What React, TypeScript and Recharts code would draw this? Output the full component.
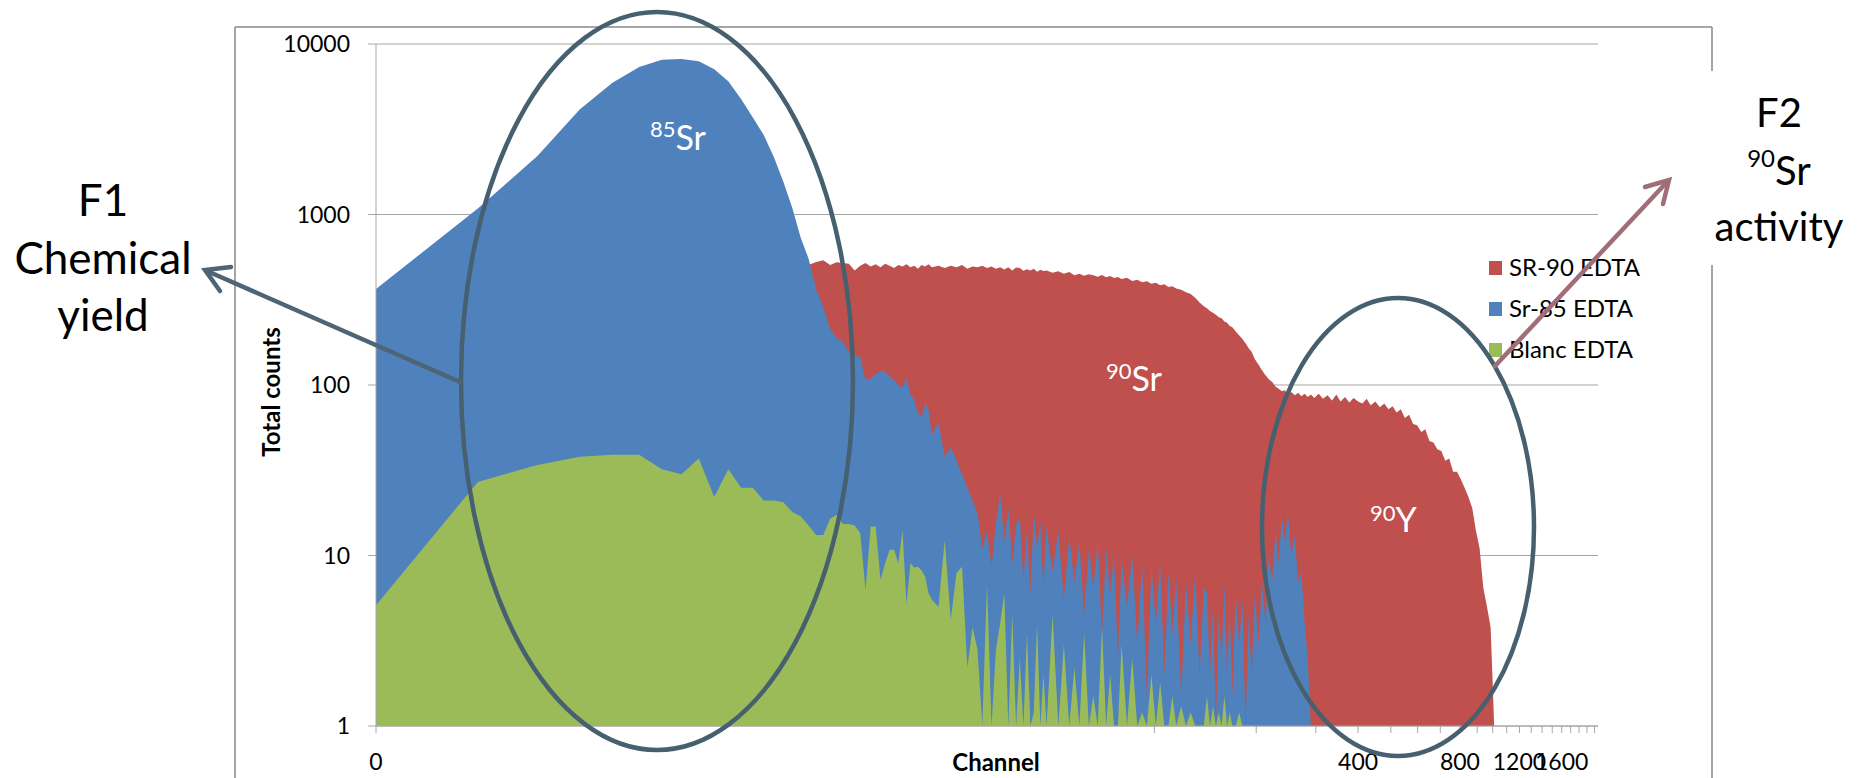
import React from 'react';
import { AreaChart, Area, XAxis, YAxis, CartesianGrid } from 'recharts';

const FONT = 'Lato, "Open Sans", sans-serif';

// channel grid (half-channel steps at the low end, sparser in the noisy tail)
const channels = [
  0.5, 1, 1.5, 2, 2.5, 3, 3.5, 4, 4.5, 5, 5.5, 6, 6.5, 7, 7.5, 8, 8.5, 9, 9.5, 10, 10.5, 11, 11.5, 12, 12.5, 13,
  13.5, 14, 14.5, 15, 15.5, 16, 16.5, 17, 17.5, 18, 18.5, 19, 19.5, 20, 20.5, 21, 21.5, 22,
  23, 24, 25, 26, 27, 28, 29, 30, 31, 32, 33, 34, 35,
  36, 37, 38, 39, 40, 41, 42, 43, 44, 45, 46, 47, 48, 50, 52, 54, 56, 58, 60,
  62, 64, 66, 68, 70, 72, 74, 76, 78, 80, 83, 86, 89, 92, 95, 98, 101, 104, 107, 110, 113, 116,
  120, 124, 128, 132, 136, 140,
  143, 146, 149, 152, 155, 158, 161, 164, 167, 170, 174, 178, 182, 186, 190, 194, 198,
  203, 208, 213, 218, 223, 228, 233, 238, 243, 248, 254, 260, 266, 272, 278, 284, 290,
  297, 306, 315, 325, 335, 345, 355, 366, 377, 388, 400, 412, 424, 436, 450, 464, 478, 492, 506, 520,
  535, 550, 566, 582, 598, 615, 632, 650, 668, 686, 705, 724, 744, 764, 784, 805, 826, 848, 870, 892,
  915, 938, 962, 986, 1000, 1010, 1024,
];

// SR-90 EDTA
const sr90 = [
  250, 420, 480, 500, 510, 505, 500, 505, 500, 505, 500, 510, 505, 500, 510, 505, 500, 510, 505, 527, 540, 505, 525, 520, 515, 470,
  500, 520, 495, 510, 490, 515, 500, 485, 505, 495, 510, 490, 500, 480, 505, 495, 510, 490,
  500, 485, 500, 490, 505, 480, 495, 490, 500, 485, 495, 480, 490,
  475, 490, 470, 488, 485, 468, 478, 470, 480, 462, 474, 466, 470, 455, 465, 450, 460, 440, 450,
  438, 446, 440, 432, 442, 428, 436, 424, 430, 418, 426, 408, 414, 400, 406, 392, 398, 385, 390, 376, 380, 368,
  362, 350, 342, 325, 305, 290,
  282, 272, 265, 258, 250, 246, 236, 232, 222, 218, 206, 196, 186, 176, 164, 156, 142,
  132, 122, 114, 108, 104, 98, 95, 92, 93, 88, 91, 87, 90, 86, 89, 85, 88,
  84, 89, 83, 87, 81, 88, 80, 85, 79, 84, 80, 78, 83, 76, 80, 74, 78, 72, 75, 69,
  72, 64, 67, 59, 58, 53, 55, 47, 46, 42, 41, 36, 37, 31, 31, 28, 25, 22, 19, 14,
  11, 6.5, 5, 3.8, 1.8, 1, 1,
];

// Sr-85 EDTA
const sr85 = [
  366, 1083, 2207, 4130, 5930, 7320, 8080, 8170, 7920, 7110, 6050, 4750, 3700, 2930, 2175, 1555, 1097, 732, 551, 366, 288, 213, 189, 178, 157, 148,
  147, 107, 109, 116, 121, 121, 112, 107, 100, 97, 109, 89, 82, 68, 65, 78, 71, 51,
  60, 38, 43, 36, 30, 25, 21, 17.7, 11, 14, 8.6, 15.4, 23,
  12, 19, 9, 15, 17, 7, 14, 6, 18, 11, 16, 6.5, 15, 8, 14, 5.5, 13, 7, 12,
  4.5, 11, 6.5, 12, 3.5, 11, 6, 10, 2.5, 9.5, 5, 10, 3, 9, 1.5, 8.5, 4, 9, 2, 8, 3.5, 7.5,
  1.5, 7, 3, 8, 2, 6.5,
  6, 2, 5, 1, 4.5, 2.5, 7, 2, 5, 1.5, 6, 3, 5.5, 1, 4.5, 2, 6,
  3, 7, 4, 10, 7, 14, 9, 17, 12, 18, 10, 13, 7, 8, 4, 2.5, 1,
  1, 1, 1, 1, 1, 1, 1, 1, 1, 1, 1, 1, 1, 1, 1, 1, 1, 1, 1, 1,
  1, 1, 1, 1, 1, 1, 1, 1, 1, 1, 1, 1, 1, 1, 1, 1, 1, 1, 1, 1,
  1, 1, 1, 1, 1, 1, 1,
];

// Blanc EDTA
const blanc = [
  5.1, 27, 34, 38, 39, 39, 32, 30, 37, 22, 32, 25, 25, 21, 21, 20.5, 18, 17, 15, 13.2, 13.2, 16.4, 17.3, 15.3, 15.3, 15,
  13.5, 6.3, 14.8, 14.8, 7.2, 9, 10.8, 10.8, 9, 14, 5.2, 9, 8.5, 8.6, 8.2, 7.5, 6, 5.5,
  5, 12.3, 4.2, 7.9, 8.6, 2.2, 3.8, 2.8, 1, 6.9, 1, 2.8, 4,
  6, 1, 4.5, 1, 2.5, 1, 3.5, 1, 1.2, 4, 1, 2, 1, 4.5, 1, 3, 1, 2.2, 1,
  3.5, 1, 1.5, 1, 3.8, 1, 2, 1, 1, 3, 1, 2.5, 1, 1.2, 1, 2, 1, 1.8, 1, 1, 1.5, 1,
  1.3, 1, 1.2, 1, 1, 1,
  1.5, 1, 1.3, 1, 1.2, 1, 1.5, 1, 1.2, 1, 1, 1.2, 1, 1, 1, 1, 1,
  1, 1, 1, 1, 1, 1, 1, 1, 1, 1, 1, 1, 1, 1, 1, 1, 1,
  1, 1, 1, 1, 1, 1, 1, 1, 1, 1, 1, 1, 1, 1, 1, 1, 1, 1, 1, 1,
  1, 1, 1, 1, 1, 1, 1, 1, 1, 1, 1, 1, 1, 1, 1, 1, 1, 1, 1, 1,
  1, 1, 1, 1, 1, 1, 1,
];

const yTicks = [1, 10, 100, 1000, 10000];
const xTicks = [0.5, 100, 200, 300, 400, 500, 600, 700, 800, 900, 1000, 1100, 1200, 1300, 1400, 1500, 1600, 1700, 1800, 1900, 2000];
const xLabelled = [400, 800, 1200, 1600];

const series = [
  { key: 'sr90', name: 'SR-90 EDTA', color: '#C0504D' },
  { key: 'sr85', name: 'Sr-85 EDTA', color: '#4F81BD' },
  { key: 'blanc', name: 'Blanc EDTA', color: '#9BBB59' },
];

const rows = channels.map((ch, i) => ({ ch, sr90: sr90[i], sr85: sr85[i], blanc: blanc[i] }));

const fmtX = (v: number) => (v === 0.5 ? '0' : xLabelled.includes(v) ? String(v) : '');

const Overlay = () => {
  const slate = '#46606f';
  const mauve = '#9f6e79';
  return (
    <svg width={1866} height={778} style={{ position: 'absolute', left: 0, top: 0, pointerEvents: 'none' }}>
      {/* chart area border, broken on the right by the F2 note */}
      <g stroke="#898989" strokeWidth={1.5}>
        <line x1={235} y1={27} x2={235} y2={778} />
        <line x1={235} y1={27} x2={1712} y2={27} />
        <line x1={1712} y1={27} x2={1712} y2={71} />
        <line x1={1712} y1={265} x2={1712} y2={778} />
      </g>

      {/* axis titles */}
      <text x={280} y={392} transform="rotate(-90 280 392)" textAnchor="middle" fontFamily={FONT} fontWeight="bold" fontSize={24} fill="#000">
        Total counts
      </text>
      <text x={996} y={771} textAnchor="middle" fontFamily={FONT} fontWeight="bold" fontSize={24} fill="#000">
        Channel
      </text>

      {/* peak labels */}
      <text x={650} y={150} fontFamily={FONT} fill="#fff" fontSize={34}>
        <tspan fontSize={22} dy={-13}>85</tspan>
        <tspan dy={13}>Sr</tspan>
      </text>
      <text x={1106} y={391} fontFamily={FONT} fill="#fff" fontSize={34}>
        <tspan fontSize={22} dy={-12}>90</tspan>
        <tspan dy={12}>Sr</tspan>
      </text>
      <text x={1370} y={532} fontFamily={FONT} fill="#fff" fontSize={34}>
        <tspan fontSize={22} dy={-11}>90</tspan>
        <tspan dy={11}>Y</tspan>
      </text>

      {/* legend */}
      {series.map((s, i) => (
        <g key={s.key}>
          <rect x={1489} y={261 + i * 41} width={13} height={14} fill={s.color} />
          <text x={1509} y={276 + i * 41} fontFamily={FONT} fontSize={24} fill="#000">
            {s.name}
          </text>
        </g>
      ))}

      {/* ellipses */}
      <ellipse cx={657} cy={381} rx={196} ry={369} fill="none" stroke={slate} strokeWidth={4.5} />
      <ellipse cx={1398} cy={527} rx={136} ry={229} fill="none" stroke={slate} strokeWidth={4.5} />

      {/* F1 note */}
      <g fontFamily={FONT} fontSize={44} fill="#000" textAnchor="middle">
        <text x={103} y={216}>F1</text>
        <text x={103} y={274}>Chemical</text>
        <text x={103} y={331}>yield</text>
      </g>
      <g stroke="#4e6575" strokeWidth={4.5} fill="none" strokeLinecap="round">
        <line x1={460} y1={382} x2={207} y2={271} />
        <polyline points="220,291 205,270 231,267" />
      </g>

      {/* F2 note */}
      <g fontFamily={FONT} fontSize={40} fill="#000" textAnchor="middle">
        <text x={1779} y={127}>F2</text>
        <text x={1779} y={185}>
          <tspan fontSize={24} dy={-18}>90</tspan>
          <tspan dy={18}>Sr</tspan>
        </text>
        <text x={1779} y={241}>activity</text>
      </g>
      <g stroke={mauve} strokeWidth={4.5} fill="none" strokeLinecap="round">
        <line x1={1495} y1={366} x2={1667} y2={182} />
        <polyline points="1645,187 1669,180 1663,204" />
      </g>
    </svg>
  );
};

export default function App() {
  return (
    <div style={{ position: 'absolute', left: 0, top: 0, width: 1866, height: 778, background: '#fff' }}>
      <AreaChart width={1866} height={778} data={rows} margin={{ top: 44, right: 268, bottom: 0, left: 0 }}>
        <CartesianGrid horizontal vertical={false} stroke="#a6a6a6" />
        <XAxis
          dataKey="ch"
          type="number"
          scale="log"
          domain={[0.5, 2048]}
          allowDataOverflow
          ticks={xTicks}
          interval={0}
          tickFormatter={fmtX}
          height={52}
          tickSize={7}
          tickMargin={21}
          axisLine={{ stroke: '#a6a6a6' }}
          tickLine={{ stroke: '#a6a6a6' }}
          tick={{ fill: '#000', fontSize: 23, fontFamily: FONT }}
        />
        <YAxis
          type="number"
          scale="log"
          domain={[1, 10000]}
          allowDataOverflow
          ticks={yTicks}
          interval={0}
          width={376}
          tickSize={8}
          tickMargin={18}
          tickFormatter={(v: number) => String(v)}
          axisLine={{ stroke: '#a6a6a6' }}
          tickLine={{ stroke: '#a6a6a6' }}
          tick={{ fill: '#000', fontSize: 23, fontFamily: FONT }}
        />
        {series.map((s) => (
          <Area
            key={s.key}
            type="linear"
            dataKey={s.key}
            name={s.name}
            stroke="none"
            fill={s.color}
            fillOpacity={1}
            baseValue={1}
            dot={false}
            activeDot={false}
            isAnimationActive={false}
          />
        ))}
      </AreaChart>
      <Overlay />
    </div>
  );
}
